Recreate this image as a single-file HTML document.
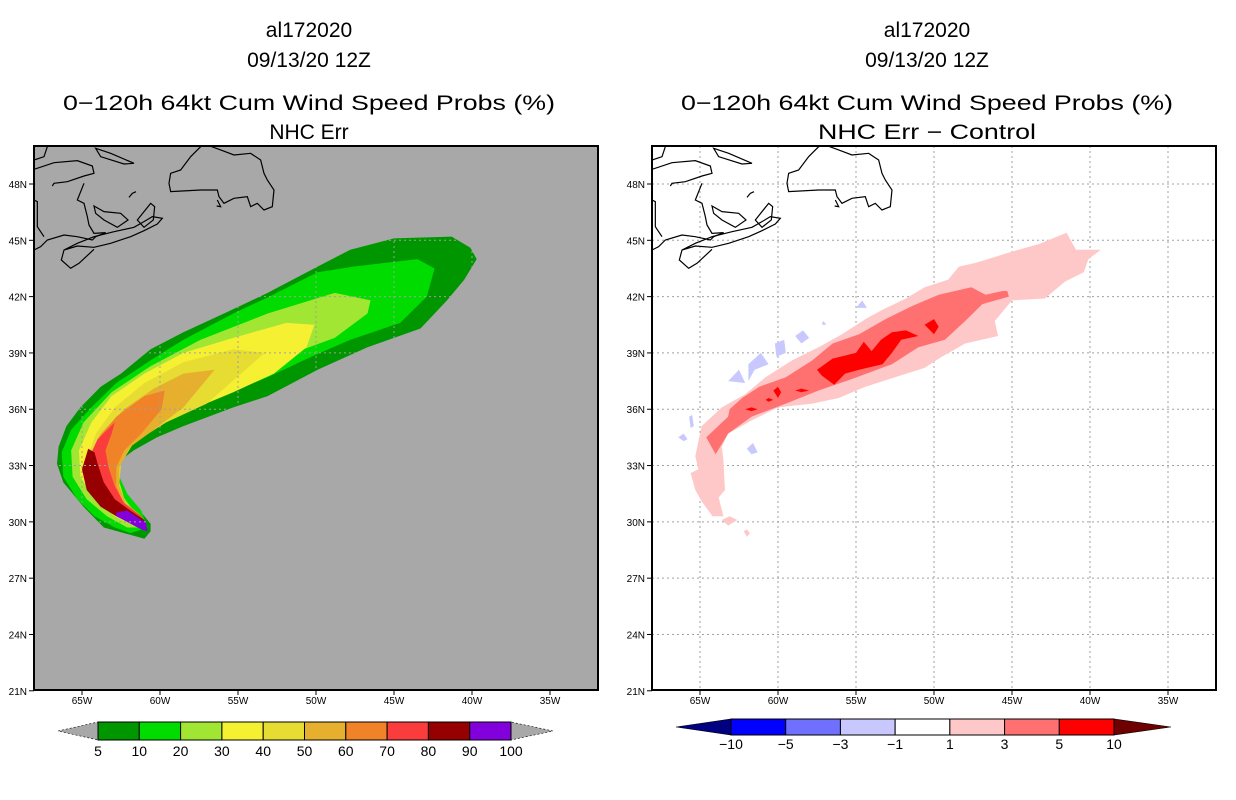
<!DOCTYPE html>
<html><head><meta charset="utf-8"><style>
html,body{margin:0;padding:0;background:#fff;}
svg{display:block;font-family:"Liberation Sans",sans-serif;}
</style></head><body>
<svg id="chart" width="1236" height="800" viewBox="0 0 1236 800">
<defs>
<clipPath id="clipL"><rect x="34" y="146" width="564" height="544"/></clipPath>
<clipPath id="clipR"><rect x="652" y="146" width="564" height="544"/></clipPath>
<clipPath id="plumeClip"><polygon id="plumeClipPoly" points=""/></clipPath>
</defs>
<g font-size="21" text-anchor="middle" fill="#000">
<text x="309" y="37">al172020</text>
<text x="309" y="67">09/13/20 12Z</text>
<text x="309" y="110" textLength="492" lengthAdjust="spacingAndGlyphs">0−120h 64kt Cum Wind Speed Probs (%)</text>
<text x="309" y="139">NHC Err</text>
</g>
<g font-size="21" text-anchor="middle" fill="#000">
<text x="927" y="37">al172020</text>
<text x="927" y="67">09/13/20 12Z</text>
<text x="927" y="110" textLength="492" lengthAdjust="spacingAndGlyphs">0−120h 64kt Cum Wind Speed Probs (%)</text>
<text x="927" y="139" textLength="218" lengthAdjust="spacingAndGlyphs">NHC Err − Control</text>
</g>
<rect x="34" y="146" width="564" height="544" fill="#a8a8a8"/>
<rect x="652" y="146" width="564" height="544" fill="#fff"/>
<g id="leftPlume" clip-path="url(#clipL)"></g>
<g id="leftGrid" clip-path="url(#plumeClip)"></g>
<g id="rightGrid" clip-path="url(#clipR)"></g>
<g id="rightDiff" clip-path="url(#clipR)"></g>
<g id="coastTpl" style="display:none"></g>
<g id="coastL" clip-path="url(#clipL)"></g>
<g id="coastR" clip-path="url(#clipR)"></g>
<rect x="34" y="146" width="564" height="544" fill="none" stroke="#000" stroke-width="2"/>
<rect x="652" y="146" width="564" height="544" fill="none" stroke="#000" stroke-width="2"/>
<g id="axes" font-size="10" fill="#000"></g>
<g id="cbarL"></g>
<g id="cbarR"></g>
</svg>
<script>
const NS="http://www.w3.org/2000/svg";
// axis tick data
const lonTicks=[65,60,55,50,45,40,35];
const latTicks=[48,45,42,39,36,33,30,27,24,21];
// left panel contour levels and colors
const probLevels=[5,10,20,30,40,50,60,70,80,90,100];
const probColors=["#009600","#00dc00","#a0e632","#f5f032","#e6dc32","#e6af2d","#f08228","#fa3c3c","#960000","#8200dc"];
// right panel difference levels
const diffLevels=[-10,-5,-3,-1,1,3,5,10];
const diffColors=["#000080","#0000ff","#7070ff","#c8c8ff","#ffffff","#ffc8c8","#ff7070","#ff0000","#6e0000"];
// contour polygons [lonW, latN]
const p5=[[60.6,29.5],[61.0,29.1],[62.3,29.4],[63.6,29.7],[64.9,30.8],[66.2,32.1],[66.6,33.1],[66.5,34.0],[66.0,35.1],[65.1,36.1],[63.8,37.2],[62.5,37.9],[60.6,39.2],[58.5,40.1],[55.9,41.1],[53.1,42.2],[49.9,43.6],[47.8,44.5],[45.0,45.1],[41.3,45.2],[40.1,44.6],[39.7,44.0],[40.5,42.9],[41.6,41.8],[43.3,40.3],[46.7,39.3],[49.9,38.1],[53.1,36.7],[55.3,36.1],[58.5,35.1],[60.2,34.5],[61.7,33.8],[62.5,33.3],[62.8,32.4],[62.3,31.5],[61.5,30.8],[60.6,29.9]];
const p10=[[60.8,29.7],[61.9,29.4],[62.9,29.7],[64.2,30.3],[65.3,31.2],[66.2,32.4],[66.3,33.7],[65.7,34.9],[64.4,36.1],[62.8,37.4],[60.6,38.6],[58.5,39.7],[55.3,41.1],[53.0,42.0],[49.9,43.3],[47.6,43.6],[43.5,44.0],[42.4,43.5],[42.9,42.0],[44.6,40.6],[47.8,39.7],[50.3,38.8],[53.1,37.7],[56.1,36.7],[59.1,35.6],[61.0,34.9],[62.3,34.0],[62.8,33.1],[62.6,32.4],[62.1,31.5],[61.2,30.6]];
const p20=[[46.5,41.8],[48.8,42.2],[53.1,41.1],[57.4,39.7],[60.6,38.3],[63.1,36.9],[64.9,35.3],[65.7,33.8],[65.6,32.4],[64.7,31.2],[63.4,30.3],[62.1,29.7],[61.0,29.7],[60.9,30.0],[61.7,30.6],[62.5,31.5],[63.1,32.6],[63.0,33.7],[62.1,34.7],[60.6,35.6],[58.5,36.7],[55.3,37.7],[52.1,38.8],[48.8,39.8],[46.7,41.1]];
const p30=[[50.1,40.5],[51.9,40.6],[55.3,39.8],[58.5,39.0],[61.0,37.9],[63.1,36.7],[64.4,35.3],[65.2,33.8],[65.1,32.4],[64.2,31.2],[62.9,30.3],[61.7,29.8],[61.2,30.1],[62.1,30.8],[62.8,31.9],[62.8,32.8],[62.3,33.8],[61.0,34.7],[58.5,35.8],[55.3,36.9],[52.7,37.9],[50.6,39.3]];
const p40=[[53.3,39.0],[55.3,39.2],[58.5,38.5],[61.0,37.4],[62.9,36.1],[64.1,34.7],[64.7,33.3],[64.6,32.1],[63.7,31.0],[62.5,30.3],[61.5,29.9],[61.2,30.3],[62.2,31.0],[62.6,32.1],[62.5,33.1],[61.7,34.2],[59.6,35.3],[57.0,36.3],[54.8,37.9]];
const p50=[[56.5,38.1],[58.5,37.9],[60.4,37.1],[62.3,36.0],[63.8,34.7],[64.6,33.3],[64.4,32.1],[63.6,31.0],[62.4,30.3],[61.5,30.0],[61.3,30.4],[62.2,31.0],[62.6,31.9],[62.6,32.9],[61.9,34.0],[60.4,34.9],[58.5,36.1]];
const p60=[[59.7,37.0],[61.0,36.7],[62.8,35.6],[64.0,34.4],[64.6,33.3],[64.4,32.1],[63.5,31.0],[62.3,30.3],[61.3,30.1],[61.7,30.5],[62.4,31.1],[62.8,31.9],[62.8,32.9],[62.3,33.8],[61.2,34.7],[59.9,36.0]];
const p70=[[62.9,35.3],[64.0,34.4],[64.6,33.3],[64.6,32.1],[63.8,31.0],[62.5,30.3],[61.2,29.9],[60.9,29.7],[61.2,30.3],[62.3,31.0],[62.9,31.9],[63.3,32.9],[63.5,33.8],[63.1,34.7]];
const p80=[[64.6,33.9],[65.0,32.8],[64.7,31.7],[63.8,30.8],[62.8,30.3],[61.7,29.9],[61.0,29.7],[60.8,29.6],[61.0,30.1],[61.9,30.6],[62.9,31.2],[63.6,32.1],[64.0,33.1],[64.2,33.7]];
const p90=[[62.8,30.5],[62.1,30.6],[61.2,30.1],[60.9,30.0],[60.8,29.5],[61.2,29.6],[61.9,29.9],[62.8,30.3]];
// difference polygons [lonW, latN]
const d1=[[41.5,45.4],[40.9,44.5],[39.3,44.5],[40.1,44.0],[40.4,43.3],[41.6,42.8],[42.9,41.9],[45.0,41.8],[46.1,40.7],[45.9,39.9],[48.0,39.5],[49.5,38.8],[50.6,38.2],[52.5,37.7],[54.4,37.2],[56.1,36.6],[57.8,36.3],[60.0,36.1],[61.7,35.4],[63.2,34.7],[63.6,34.0],[63.5,33.3],[63.4,31.7],[63.8,31.3],[63.5,30.3],[64.2,30.3],[64.9,31.1],[65.3,31.7],[65.6,32.6],[65.1,32.8],[65.3,33.5],[64.9,35.1],[63.6,36.1],[62.1,36.8],[60.8,37.7],[59.1,38.6],[57.4,39.3],[55.9,40.0],[54.4,40.8],[53.3,41.3],[51.8,41.9],[50.6,42.5],[49.1,42.9],[48.4,43.6],[47.3,43.8],[45.0,44.4],[43.3,44.8]];
const d1b=[[63.6,30.1],[63.1,30.3],[62.6,30.1],[63.2,29.8]];
const d1c=[[62.2,29.5],[62.0,29.6],[61.8,29.4],[62.0,29.2]];
const d3=[[45.3,42.3],[45.2,42.0],[46.9,41.6],[48.0,40.7],[49.3,39.7],[51.0,39.3],[52.7,38.4],[55.3,37.6],[57.4,37.0],[59.5,36.3],[61.7,35.6],[63.2,34.7],[64.0,33.6],[64.6,34.5],[63.2,35.6],[63.1,36.0],[62.3,36.6],[61.2,37.2],[59.5,37.7],[57.8,38.6],[56.5,39.5],[54.8,40.0],[53.1,40.8],[51.4,41.5],[49.7,42.1],[47.6,42.5],[46.7,42.1],[45.6,42.3]];
const d5=[[57.5,38.1],[56.5,38.7],[55.0,39.0],[54.5,39.6],[54.0,39.1],[53.4,39.7],[52.7,40.1],[51.8,40.2],[51.0,39.9],[52.1,39.7],[52.7,39.0],[53.3,38.4],[54.8,38.1],[55.7,37.9],[56.4,37.3],[57.2,37.8]];
const d5b=[[50.6,40.5],[50.0,40.8],[49.7,40.4],[50.0,40.0]];
const d5c=[[60.3,37.0],[60.0,37.2],[59.8,36.9],[60.0,36.6]];
const d5d=[[58.9,37.0],[58.5,37.1],[58.0,37.0],[58.5,36.9]];
const d5e=[[60.8,36.5],[60.6,36.6],[60.3,36.5],[60.6,36.4]];
const d5f=[[62.1,36.0],[61.7,36.1],[61.3,36.0],[61.7,35.9]];
const dn1=[[55.0,41.4],[54.6,41.8],[54.3,41.4]];
const dn2=[[58.9,39.9],[58.4,40.2],[58.0,39.8],[58.5,39.5]];
const dn3=[[60.2,39.5],[59.6,39.7],[59.5,39.0],[60.1,38.8]];
const dn4=[[61.9,38.4],[61.1,39.0],[60.6,38.4],[61.5,38.1],[61.9,37.5]];
const dn5=[[63.2,37.5],[62.5,38.1],[62.1,37.4]];
const dn6=[[66.4,34.5],[66.05,34.7],[65.8,34.4],[66.05,34.3]];
const dn7=[[62.0,33.9],[61.6,34.2],[61.3,33.7],[61.7,33.6]];
const dn8=[[65.7,35.6],[65.5,35.7],[65.4,35.1],[65.6,35.0]];
const dn9=[[57.1,40.7],[56.9,40.5],[57.2,40.5]];

// axis functions
function xL(lon){return 82+(65-lon)*15.6;}
function yL(lat){return 184+(48-lat)*18.77;}
function xR(lon){return xL(lon)+618;}
function pts(arr,fx){return arr.map(p=>fx(p[0]).toFixed(1)+","+yL(p[1]).toFixed(1)).join(" ");}
function mk(tag,attrs,parent){const e=document.createElementNS(NS,tag);for(const k in attrs)e.setAttribute(k,attrs[k]);parent.appendChild(e);return e;}

// left plume
const leftG=document.getElementById("leftPlume");
const probPolys=[p5,p10,p20,p30,p40,p50,p60,p70,p80,p90];
probPolys.forEach((poly,i)=>{
  const e=mk("polygon",{points:pts(poly,xL),fill:probColors[i]},leftG);
  
  
});
document.getElementById("plumeClipPoly").setAttribute("points",pts(p5,xL));

// grids
function grid(g,fx,x0,x1){
  lonTicks.forEach(lon=>{
    const l=mk("line",{x1:fx(lon),x2:fx(lon),y1:146,y2:690,stroke:"#a0a0a0","stroke-width":1,"stroke-dasharray":"2,3"},g);
    
    
  });
  latTicks.forEach(lat=>{
    const l=mk("line",{x1:x0,x2:x1,y1:yL(lat),y2:yL(lat),stroke:"#a0a0a0","stroke-width":1,"stroke-dasharray":"2,3"},g);
    
    
  });
}
grid(document.getElementById("leftGrid"),xL,34,598);
grid(document.getElementById("rightGrid"),xR,652,1216);

// right difference field
const rightG=document.getElementById("rightDiff");
const diffPolys=[[d1,5],[d1b,5],[d1c,5],[dn1,3],[dn2,3],[dn3,3],[dn4,3],[dn5,3],[dn6,3],[dn7,3],[dn8,3],[dn9,3],[d3,6],[d5,7],[d5b,7],[d5c,7],[d5d,7],[d5e,7],[d5f,7]];
diffPolys.forEach((d,i)=>{
  const e=mk("polygon",{points:pts(d[0],xR),fill:diffColors[d[1]]},rightG);
  
  
});

// coastlines (zoom-pixel sketch units)
const coastPaths=[
"M0,88 L60,68 L130,62 L175,78 L180,100 L150,108 L100,125 L60,130 L55,138 M150,130 L130,180 L150,190 L160,230 L165,255 L180,280 L215,278 L185,290 L175,300 L130,290 L90,285 L40,300 L20,320 L0,330",
"M0,180 L10,185 L10,260 L30,290",
"M40,20 L30,50 L0,60",
"M185,25 L230,40 L300,70 L270,72 L200,50 Z",
"M90,330 L130,318 L180,322 L230,310 L290,290 L330,272 L370,252 L385,235 L355,230 L330,245 L300,262 L240,275 L180,290 L130,310 L90,330 L82,360 L110,385 L135,370 L180,328",
"M180,198 L210,215 L260,220 L282,240 L250,262 L210,240 L185,220 Z",
"M310,240 L350,190 L362,200 L358,240 L330,262 Z",
"M285,172 L295,160 L306,155",
"M410,100 L440,90 L470,50 L500,20 L520,15 L560,30 L600,45 L650,40 L680,60 L690,100 L700,120 L720,150 L715,200 L690,210 L670,190 L650,200 L640,170 L600,175 L570,190 L555,170 L550,150 L500,150 L410,155 L405,130 Z",
"M550,180 L560,200 L548,198"
];
[["coastL",34],["coastR",652]].forEach(([id,ox])=>{
  const g=document.getElementById(id);
  const t=mk("g",{transform:"translate("+ox+",140) scale(0.3333)"},g);
  coastPaths.forEach((d,i)=>{
    const p=mk("path",{d:d,fill:"none",stroke:"#000","stroke-width":1.2,"vector-effect":"non-scaling-stroke"},t);
    
    
  });
});

// axes labels and ticks
const ax=document.getElementById("axes");
[[xL,34],[xR,652]].forEach(([fx,left])=>{
  lonTicks.forEach(lon=>{
    mk("line",{x1:fx(lon),x2:fx(lon),y1:690,y2:695,stroke:"#000"},ax);
    const t=mk("text",{x:fx(lon),y:704,"text-anchor":"middle"},ax);
    t.textContent=lon+"W";
    
    
  });
  latTicks.forEach(lat=>{
    mk("line",{x1:left-5,x2:left,y1:yL(lat),y2:yL(lat),stroke:"#000"},ax);
    const t=mk("text",{x:left-7,y:yL(lat)+4,"text-anchor":"end"},ax);
    t.textContent=lat+"N";
    
    
  });
});

// colorbars
function colorbar(g,x0,x1,tipL,tipR,yT,yB,colors,labels,ly,tipLc,tipRc){
  const n=colors.length,w=(x1-x0)/n,yc=(yT+yB)/2;
  const a=mk("polygon",{points:tipL+","+yc+" "+x0+","+yT+" "+x0+","+yB,fill:tipLc,stroke:"#000","stroke-width":0.6,"stroke-dasharray":tipLc==="#a8a8a8"?"2,2":"none"},g);
  
  
  const b=mk("polygon",{points:tipR+","+yc+" "+x1+","+yT+" "+x1+","+yB,fill:tipRc,stroke:"#000","stroke-width":0.6,"stroke-dasharray":tipRc==="#a8a8a8"?"2,2":"none"},g);
  
  
  colors.forEach((c,i)=>{
    const r=mk("rect",{x:x0+i*w,y:yT,width:w,height:yB-yT,fill:c,stroke:"#000","stroke-width":1},g);
    
    
  });
  labels.forEach((l,i)=>{
    const t=mk("text",{x:x0+i*w,y:ly,"text-anchor":"middle","font-size":14},g);
    t.textContent=String(l).replace("-","−");
    
    
  });
}
colorbar(document.getElementById("cbarL"),98,511,58,553,722,740,probColors,probLevels,756,"#a8a8a8","#a8a8a8");
colorbar(document.getElementById("cbarR"),731,1114,676,1171,719,735,diffColors.slice(1,8),diffLevels,749,diffColors[0],diffColors[8]);
</script>
</body></html>
